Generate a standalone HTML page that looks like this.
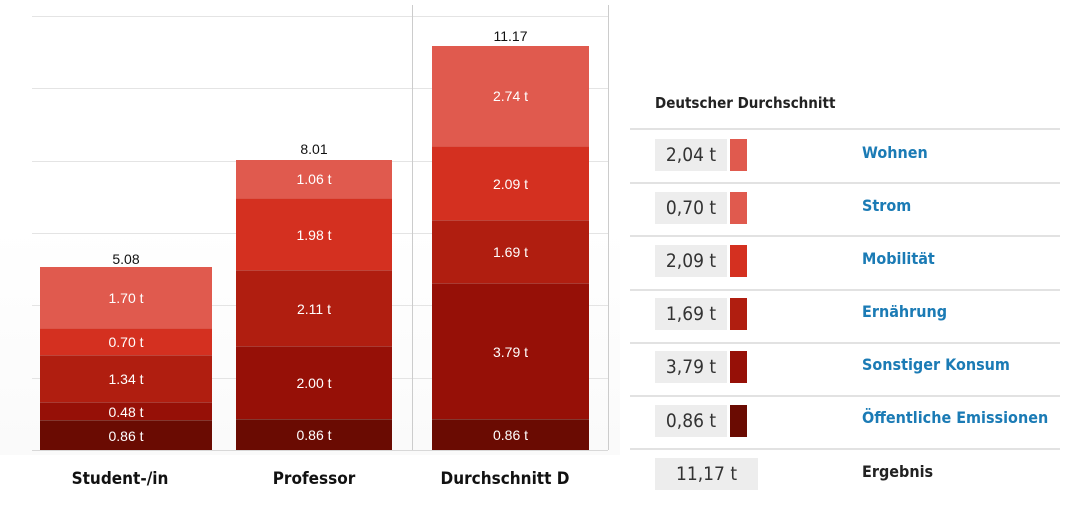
<!DOCTYPE html>
<html><head><meta charset="utf-8"><style>
body{margin:0;width:1091px;height:517px;background:#fff;position:relative;overflow:hidden;font-family:"Liberation Sans",sans-serif}
.a{position:absolute}
.g{position:absolute;left:32px;width:576px;height:1px;background:#e4e4e4}
.s{position:absolute;display:flex;align-items:center;justify-content:center;color:#fff;font-size:14px;border-top:1px solid rgba(255,255,255,0.18);box-sizing:border-box}
.tot{position:absolute;font-size:14px;color:#111;text-align:center}
.cat{position:absolute;top:469px;font-weight:bold;font-size:17px;color:#111;text-align:center;font-family:"DejaVu Sans Condensed","Liberation Sans",sans-serif}
.rl{position:absolute;left:630px;width:430px;height:2px;background:#e2e2e2}
.vb{position:absolute;left:655px;width:72px;height:32px;background:#ededed;font-size:19px;color:#333;line-height:32px;text-align:center;font-family:"DejaVu Sans Condensed","Liberation Sans",sans-serif}
.sw{position:absolute;left:730px;width:17px;height:32px}
.lb{position:absolute;left:862px;font-size:16px;font-weight:bold;color:#1b7bb5;font-family:"DejaVu Sans Condensed","Liberation Sans",sans-serif}
</style></head><body>
<div class="a" style="left:0;top:0;width:620px;height:455px;background:linear-gradient(to bottom,#fff 0%,#fff 50%,#fafafa 100%)"></div>
<div class="g" style="top:16px"></div><div class="g" style="top:88px"></div><div class="g" style="top:161px"></div><div class="g" style="top:233px"></div><div class="g" style="top:305px"></div><div class="g" style="top:378px"></div><div class="g" style="top:450px;background:#d8d8d8"></div>
<div class="a" style="left:412px;top:5px;width:1px;height:445px;background:#ccc"></div>
<div class="a" style="left:608px;top:5px;width:1px;height:445px;background:#ccc"></div>

<div class="tot" style="left:40px;width:172px;top:251px">5.08</div>
<div class="s" style="left:40px;width:172px;top:267px;height:61px;background:#e05a4e;border:0">1.70 t</div>
<div class="s" style="left:40px;width:172px;top:328px;height:27px;background:#d43020">0.70 t</div>
<div class="s" style="left:40px;width:172px;top:355px;height:47px;background:#b01e10">1.34 t</div>
<div class="s" style="left:40px;width:172px;top:402px;height:18px;background:#961007">0.48 t</div>
<div class="s" style="left:40px;width:172px;top:420px;height:30px;background:#6a0b02">0.86 t</div>

<div class="tot" style="left:236px;width:156px;top:141px">8.01</div>
<div class="s" style="left:236px;width:156px;top:160px;height:38px;background:#e05a4e;border:0">1.06 t</div>
<div class="s" style="left:236px;width:156px;top:198px;height:72px;background:#d43020">1.98 t</div>
<div class="s" style="left:236px;width:156px;top:270px;height:76px;background:#b01e10">2.11 t</div>
<div class="s" style="left:236px;width:156px;top:346px;height:73px;background:#961007">2.00 t</div>
<div class="s" style="left:236px;width:156px;top:419px;height:31px;background:#6a0b02">0.86 t</div>

<div class="tot" style="left:432px;width:157px;top:28px">11.17</div>
<div class="s" style="left:432px;width:157px;top:46px;height:100px;background:#e05a4e;border:0">2.74 t</div>
<div class="s" style="left:432px;width:157px;top:146px;height:74px;background:#d43020">2.09 t</div>
<div class="s" style="left:432px;width:157px;top:220px;height:63px;background:#b01e10">1.69 t</div>
<div class="s" style="left:432px;width:157px;top:283px;height:136px;background:#961007">3.79 t</div>
<div class="s" style="left:432px;width:157px;top:419px;height:31px;background:#6a0b02">0.86 t</div>

<div class="cat" style="left:40px;width:160px">Student-/in</div>
<div class="cat" style="left:236px;width:156px">Professor</div>
<div class="cat" style="left:420px;width:170px">Durchschnitt D</div>

<div class="a" style="left:655px;top:94px;font-size:15px;font-weight:bold;color:#222;font-family:'DejaVu Sans Condensed','Liberation Sans',sans-serif">Deutscher Durchschnitt</div>
<div class="rl" style="top:128px"></div><div class="rl" style="top:182px"></div><div class="rl" style="top:235px"></div><div class="rl" style="top:289px"></div><div class="rl" style="top:342px"></div><div class="rl" style="top:395px"></div><div class="rl" style="top:448px"></div>

<div class="vb" style="top:139px">2,04 t</div><div class="sw" style="top:139px;background:#e05a4e"></div><div class="lb" style="top:143px">Wohnen</div>
<div class="vb" style="top:192px">0,70 t</div><div class="sw" style="top:192px;background:#e05a4e"></div><div class="lb" style="top:196px">Strom</div>
<div class="vb" style="top:245px">2,09 t</div><div class="sw" style="top:245px;background:#d43020"></div><div class="lb" style="top:249px">Mobilität</div>
<div class="vb" style="top:298px">1,69 t</div><div class="sw" style="top:298px;background:#b01e10"></div><div class="lb" style="top:302px">Ernährung</div>
<div class="vb" style="top:351px">3,79 t</div><div class="sw" style="top:351px;background:#961007"></div><div class="lb" style="top:355px">Sonstiger Konsum</div>
<div class="vb" style="top:405px">0,86 t</div><div class="sw" style="top:405px;background:#6a0b02"></div><div class="lb" style="top:408px">Öffentliche Emissionen</div>
<div class="vb" style="top:458px;width:103px">11,17 t</div><div class="lb" style="top:462px;color:#222">Ergebnis</div>
</body></html>
